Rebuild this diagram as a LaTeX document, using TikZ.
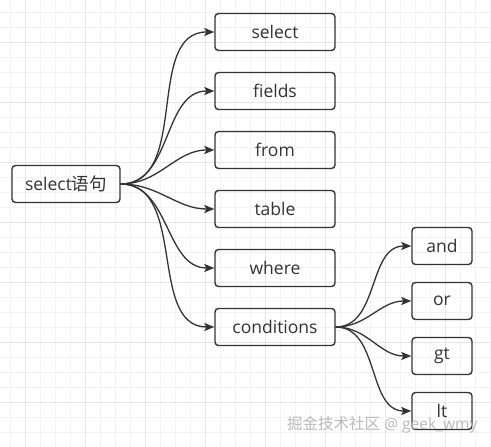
\documentclass[tikz,border=0pt]{standalone}
\usepackage{fontspec}
\setmainfont{Open Sans}
\newfontfamily\cjk{Noto Sans CJK SC}
\usetikzlibrary{arrows.meta}
\definecolor{ink}{HTML}{333333}
\definecolor{gminor}{HTML}{F3F3F3}
\definecolor{gmajor}{HTML}{E6E6E6}
\tikzset{
  box/.style={draw=ink, line width=1.4pt, rounded corners=3.5pt, text=ink, minimum height=37pt, inner sep=0pt, font=\fontsize{17.5}{19}\selectfont},
  wide/.style={box, minimum width=120pt},
  small/.style={box, minimum width=60pt},
  edge/.style={draw=ink, line width=1.3pt, -{Stealth[length=10pt,width=8pt,inset=2pt]}},
}
\begin{document}
\begin{tikzpicture}[x=1pt,y=-1pt]
\fill[white] (0,0) rectangle (491,447);
\useasboundingbox (0,0) rectangle (491,447);
% grid
\foreach \x in {10,25,...,490} \draw[gminor, line width=1pt] (\x,0) -- (\x,447);
\foreach \y in {12,27,...,447} \draw[gminor, line width=1pt] (0,\y) -- (491,\y);
\foreach \x in {25,85,...,490} \draw[gmajor, line width=1pt] (\x,0) -- (\x,447);
\foreach \y in {42,102,...,447} \draw[gmajor, line width=1pt] (0,\y) -- (491,\y);
% nodes
\node[box, minimum width=108pt] (root) at (66,184) {select{\cjk 语句}};
\node[wide] (n1) at (275,32) {select};
\node[wide] (n2) at (275,91) {fields};
\node[wide] (n3) at (275,150) {from};
\node[wide] (n4) at (275,209) {table};
\node[wide] (n5) at (275,268) {where};
\node[wide] (n6) at (275,327) {conditions};
\node[small] (c1) at (442,246) {and};
\node[small] (c2) at (442,301) {or};
\node[small] (c3) at (442,356) {gt};
\node[small] (c4) at (442,411) {lt};
% edges
\foreach \t in {n1,n2,n3,n4,n5,n6}
  \draw[edge] (root.east) to[out=0,in=180] (\t.west);
\foreach \t in {c1,c2,c3,c4}
  \draw[edge] (n6.east) to[out=0,in=180] (\t.west);
% watermark
\node[anchor=east, text=gray!55, font=\fontsize{15.5}{17}\selectfont] (wm) at (481,425) {{\cjk 掘金技术社区} @ geek\_wmy};
\end{tikzpicture}
\end{document}
